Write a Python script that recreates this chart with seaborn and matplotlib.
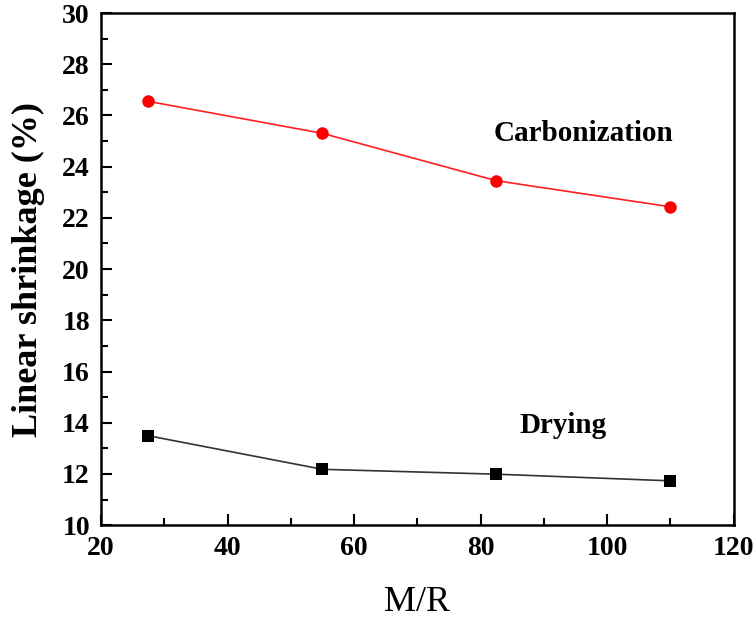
import pandas as pd
import matplotlib.pyplot as plt
import seaborn as sns
from matplotlib.ticker import MultipleLocator

# data
mr = [27.5, 55, 82.5, 110]
carbonization = [26.55, 25.30, 23.45, 22.43]
drying = [13.49, 12.18, 11.99, 11.73]

df = pd.DataFrame({'M/R': mr + mr,
                   'shrinkage': carbonization + drying,
                   'stage': ['Carbonization'] * 4 + ['Drying'] * 4})

sns.set_style('ticks')
plt.rcParams['font.family'] = ['Liberation Serif', 'DejaVu Serif']
plt.rcParams['xtick.direction'] = 'in'
plt.rcParams['ytick.direction'] = 'in'
plt.rcParams['axes.edgecolor'] = 'black'
plt.rcParams['xtick.color'] = 'black'
plt.rcParams['ytick.color'] = 'black'
plt.rcParams['text.color'] = 'black'
plt.rcParams['axes.labelcolor'] = 'black'

fig = plt.figure(figsize=(7.56, 6.2), dpi=100)
ax = fig.add_axes([0.1336, 0.153, 0.837, 0.826])

sns.lineplot(data=df[df['stage'] == 'Carbonization'], x='M/R', y='shrinkage',
             color='#ff2020', marker='o', markersize=9, markeredgewidth=0,
             markerfacecolor='#ff0000', linewidth=1.2, ax=ax)
sns.lineplot(data=df[df['stage'] == 'Drying'], x='M/R', y='shrinkage',
             color='#333333', marker='s', markersize=8, markeredgewidth=0,
             markerfacecolor='black', linewidth=1.2, ax=ax)

ax.set_xlim(20, 120)
ax.set_ylim(10, 30)
ax.xaxis.set_major_locator(MultipleLocator(20))
ax.xaxis.set_minor_locator(MultipleLocator(10))
ax.yaxis.set_major_locator(MultipleLocator(2))
ax.yaxis.set_minor_locator(MultipleLocator(1))
ax.tick_params(which='major', length=8, width=1.5, labelsize=20, pad=8)
ax.tick_params(which='minor', length=5, width=1.5)
for lab in ax.get_xticklabels() + ax.get_yticklabels():
    lab.set_fontweight('bold')

for s in ax.spines.values():
    s.set_linewidth(1.8)
    s.set_visible(True)

ax.set_xlabel('M/R', fontsize=26, labelpad=18)
ax.set_ylabel('Linear shrinkage (%)', fontsize=26, fontweight='bold', labelpad=12)

ax.text(96.3, 25.3, 'Carbonization', fontsize=21, fontweight='bold',
        ha='center', va='center')
ax.text(93, 13.9, 'Drying', fontsize=21, fontweight='bold',
        ha='center', va='center')

plt.savefig('out.png', dpi=100)
